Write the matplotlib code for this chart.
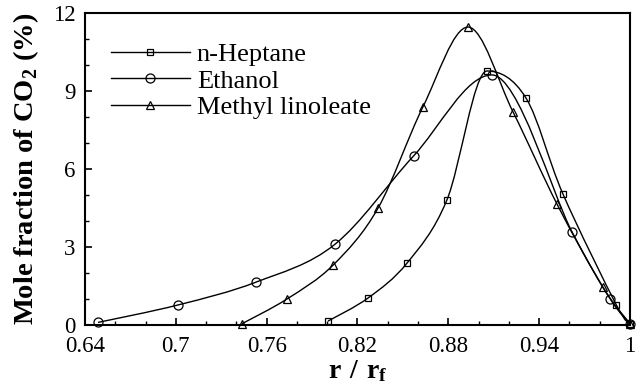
import numpy as np
import matplotlib
matplotlib.use("Agg")
import matplotlib.pyplot as plt
from matplotlib.path import Path
from matplotlib.patches import PathPatch
from matplotlib.lines import Line2D
from matplotlib.ticker import MultipleLocator

plt.rcParams['font.family'] = ['Liberation Serif', 'DejaVu Serif']
plt.rcParams['mathtext.fontset'] = 'custom'
plt.rcParams['mathtext.rm'] = 'Liberation Serif'
plt.rcParams['mathtext.bf'] = 'Liberation Serif:bold'

# Radial profiles of CO2 mole fraction (%)
heptane_r = [0.8005, 0.827, 0.8527, 0.879, 0.9055, 0.9313, 0.9557, 0.991, 1.0]
heptane_x = [0.15, 1.04, 2.38, 4.8, 9.77, 8.73, 5.04, 0.77, 0.05]

ethanol_r = [0.6486, 0.7014, 0.753, 0.805, 0.857, 0.9088, 0.9617, 0.987, 1.0]
ethanol_x = [0.1, 0.77, 1.65, 3.1, 6.5, 9.62, 3.58, 1.0, 0.05]

linoleate_r = [0.7437, 0.7734, 0.8038, 0.8336, 0.8633, 0.893, 0.9227, 0.9518, 0.982, 1.0]
linoleate_x = [0.05, 1.0, 2.3, 4.5, 8.4, 11.46, 8.2, 4.65, 1.46, 0.05]

series_names = ['n-Heptane', 'Ethanol', 'Methyl linoleate']
x_ticks = [0.64, 0.7, 0.76, 0.82, 0.88, 0.94, 1.0]
x_tick_labels = ['0.64', '0.7', '0.76', '0.82', '0.88', '0.94', '1']
y_ticks = [0, 3, 6, 9, 12]


def smooth_path(xs, ys):
    """Cubic Bezier path through every point (Catmull-Rom tangents,
    flattened at local peaks so the curve tops out on the point)."""
    p = np.column_stack([xs, ys]).astype(float)
    n = len(p)
    tang = np.zeros_like(p)
    for i in range(n):
        a = p[i - 1] if i > 0 else p[i]
        b = p[i + 1] if i + 1 < n else p[i]
        tang[i] = (b - a) / 6.0
        if 0 < i < n - 1 and p[i, 1] > p[i - 1, 1] and p[i, 1] > p[i + 1, 1]:
            tang[i, 1] = 0.0
    verts = [p[0]]
    codes = [Path.MOVETO]
    for i in range(n - 1):
        verts += [p[i] + tang[i], p[i + 1] - tang[i + 1], p[i + 1]]
        codes += [Path.CURVE4] * 3
    return Path(verts, codes)


fig = plt.figure(figsize=(6.42, 3.89), dpi=100)
ax = fig.add_axes([0.1324, 0.1645, 0.8489, 0.802])

styles = [('s', 5), ('o', 6.5), ('^', 5.5)]
data = [(heptane_r, heptane_x), (ethanol_r, ethanol_x), (linoleate_r, linoleate_x)]
handles = []
for (r, v), (mk, ms), name in zip(data, styles, series_names):
    ax.add_patch(PathPatch(smooth_path(r, v), facecolor='none',
                           edgecolor='black', lw=1.0, transform=ax.transData,
                           zorder=2))
    ax.plot(r, v, linestyle='none', marker=mk, ms=ms, mfc='none',
            mec='black', mew=0.9, zorder=3, clip_on=False)
    handles.append(Line2D([], [], color='black', lw=1.0, marker=mk, ms=ms,
                          mfc='none', mec='black', mew=0.9, label=name))

ax.set_xlim(0.64, 1.0)
ax.set_ylim(0, 12)
ax.set_xticks(x_ticks)
ax.set_xticklabels(x_tick_labels)
ax.set_yticks(y_ticks)
ax.xaxis.set_minor_locator(MultipleLocator(0.02))
ax.yaxis.set_minor_locator(MultipleLocator(1))
ax.tick_params(which='both', direction='in', top=False, right=False,
               labelsize=16.5)
ax.tick_params(axis='x', which='major', pad=8)
ax.tick_params(axis='y', which='major', pad=7)
ax.tick_params(which='major', length=5, width=1.2)
ax.tick_params(which='minor', length=3, width=1.0)
for s in ax.spines.values():
    s.set_linewidth(1.5)

ax.set_xlabel(r'$\mathbf{r\ /\ r_f}$', fontsize=20, labelpad=1)
ax.set_ylabel(r'Mole fraction of CO$_\mathbf{2}$ (%)', fontsize=20.5,
              fontweight='bold', labelpad=8.5)

ax.legend(handles=handles, loc='upper left', bbox_to_anchor=(0.013, 0.965),
          frameon=False, fontsize=19, handlelength=3.0, handletextpad=0.27,
          labelspacing=0.12, numpoints=1, borderpad=0.2)

fig.savefig('out.png', dpi=100)
